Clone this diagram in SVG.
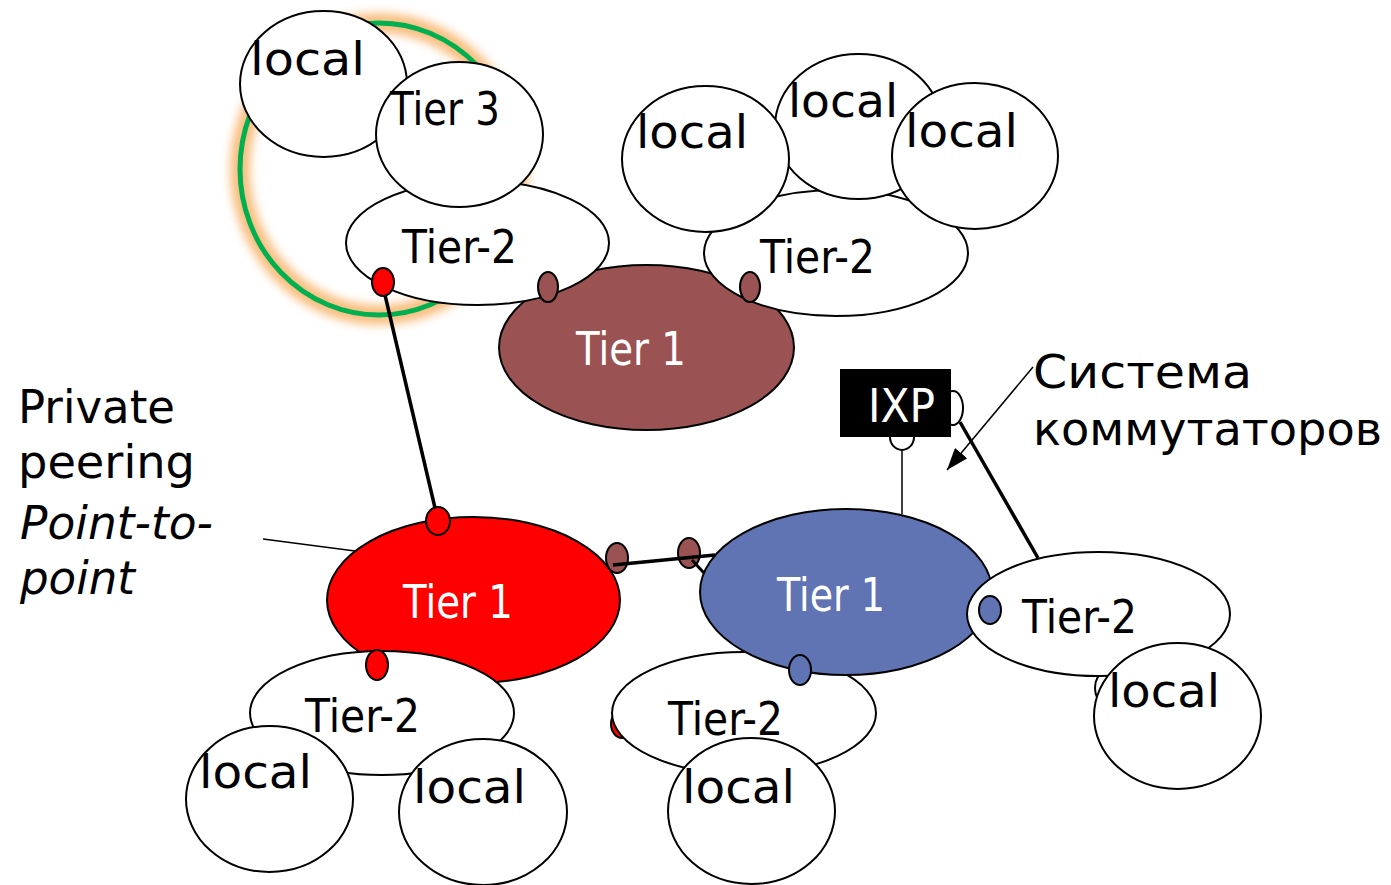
<svg xmlns="http://www.w3.org/2000/svg" width="1391" height="885" viewBox="0 0 1391 885">
<style>
.n{fill:#fff;stroke:#000;stroke-width:2}
.t{font-family:"DejaVu Sans","Liberation Sans",sans-serif;font-size:46px;fill:#000}
.w{fill:#fff}
.bd{fill:#9a5252;stroke:#000;stroke-width:2}
.rd{fill:#ff0000;stroke:#000;stroke-width:2}
.bl{fill:#6073b3;stroke:#000;stroke-width:2}
.c{stroke:#000;fill:none}
</style>
<defs>
<filter id="glow" x="-20%" y="-20%" width="140%" height="140%"><feGaussianBlur stdDeviation="5"/></filter>
<marker id="ah" viewBox="0 0 22 16" refX="22" refY="8" markerWidth="22" markerHeight="16" markerUnits="userSpaceOnUse" orient="auto"><path d="M0,0 L22,8 L0,16 z" fill="#000"/></marker>
</defs>
<rect width="1391" height="885" fill="#fff"/>

<g id="tier3-domain">
<ellipse cx="379" cy="169" rx="139" ry="146" fill="none" stroke="#f6a955" stroke-width="20" filter="url(#glow)" opacity="0.75"/>
<ellipse cx="379" cy="169" rx="139" ry="146" fill="none" stroke="#00b050" stroke-width="5"/>
</g>

<g id="tier1-brown">
<ellipse cx="646.5" cy="347.5" rx="147.5" ry="82.5" class="bd"/>
<text x="576" y="365" class="t w" textLength="110" lengthAdjust="spacingAndGlyphs">Tier 1</text>
</g>
<g id="tier2-topleft">
<ellipse cx="477.5" cy="243" rx="131.5" ry="62" class="n"/>
<text x="402" y="263" class="t" textLength="115" lengthAdjust="spacingAndGlyphs">Tier-2</text>
</g>
<g id="local-topleft">
<ellipse cx="323.5" cy="84" rx="83.5" ry="73" class="n"/>
<text x="250" y="75" class="t" textLength="115" lengthAdjust="spacingAndGlyphs">local</text>
</g>
<g id="tier3">
<ellipse cx="459.5" cy="134.5" rx="83.5" ry="72.5" class="n"/>
<text x="390" y="125" class="t" textLength="110" lengthAdjust="spacingAndGlyphs">Tier 3</text>
</g>

<g id="tier2-topright">
<ellipse cx="836" cy="253" rx="132" ry="63" class="n"/>
<text x="760" y="273" class="t" textLength="115" lengthAdjust="spacingAndGlyphs">Tier-2</text>
</g>
<g id="local-top-mid">
<ellipse cx="858.5" cy="126.5" rx="83.5" ry="72.5" class="n"/>
<text x="788" y="117" class="t" textLength="110" lengthAdjust="spacingAndGlyphs">local</text>
</g>
<g id="local-top-left2">
<ellipse cx="705.5" cy="159" rx="83.5" ry="73" class="n"/>
<text x="636" y="148" class="t" textLength="112" lengthAdjust="spacingAndGlyphs">local</text>
</g>
<g id="local-top-right">
<ellipse cx="975" cy="156" rx="83" ry="73" class="n"/>
<text x="905" y="147" class="t" textLength="113" lengthAdjust="spacingAndGlyphs">local</text>
</g>

<g id="ports-top">
<ellipse cx="548" cy="287" rx="10" ry="15" class="bd"/>
<ellipse cx="750" cy="287" rx="10" ry="15" class="bd"/>
<ellipse cx="383" cy="282" rx="11" ry="14" class="rd"/>
</g>

<g id="ixp">
<ellipse cx="953" cy="408" rx="10" ry="17" class="n"/>
<ellipse cx="902" cy="437" rx="12" ry="13" class="n"/>
<rect x="840" y="369" width="111" height="68" fill="#000"/>
<text x="868" y="422" class="t w" textLength="67" lengthAdjust="spacingAndGlyphs">IXP</text>
</g>

<g id="tier1-red">
<ellipse cx="473.5" cy="600" rx="146.5" ry="83" class="rd"/>
<text x="403" y="618" class="t w" textLength="110" lengthAdjust="spacingAndGlyphs">Tier 1</text>
</g>
<g id="tier2-bottomleft">
<ellipse cx="382" cy="713" rx="132" ry="62" class="n"/>
<text x="305" y="732" class="t" textLength="115" lengthAdjust="spacingAndGlyphs">Tier-2</text>
<ellipse cx="377" cy="665" rx="11" ry="15" class="rd"/>
</g>
<g id="local-bl1">
<ellipse cx="269.5" cy="799" rx="83.5" ry="73" class="n"/>
<text x="199" y="788" class="t" textLength="113" lengthAdjust="spacingAndGlyphs">local</text>
</g>
<g id="local-bl2">
<ellipse cx="483" cy="812" rx="84" ry="73" class="n"/>
<text x="413" y="803" class="t" textLength="113" lengthAdjust="spacingAndGlyphs">local</text>
</g>

<g id="tier2-bottommid">
<ellipse cx="622" cy="724" rx="11" ry="14" class="rd"/>
<ellipse cx="744" cy="713" rx="132" ry="61" class="n"/>
<text x="668" y="735" class="t" textLength="115" lengthAdjust="spacingAndGlyphs">Tier-2</text>
</g>
<g id="tier1-blue">
<ellipse cx="846" cy="592" rx="146" ry="83" class="bl"/>
<text x="777" y="611" class="t w" textLength="108" lengthAdjust="spacingAndGlyphs">Tier 1</text>
<ellipse cx="800" cy="670" rx="11" ry="15" class="bl"/>
</g>
<g id="local-bm">
<ellipse cx="751.5" cy="811" rx="83.5" ry="73" class="n"/>
<text x="682" y="803" class="t" textLength="113" lengthAdjust="spacingAndGlyphs">local</text>
</g>

<g id="tier2-right">
<ellipse cx="1103" cy="688" rx="8" ry="14" class="n"/>
<ellipse cx="1098.5" cy="614" rx="131.5" ry="62" class="n"/>
<text x="1022" y="633" class="t" textLength="115" lengthAdjust="spacingAndGlyphs">Tier-2</text>
<ellipse cx="990" cy="610" rx="11" ry="14" class="bl"/>
</g>
<g id="local-right">
<ellipse cx="1177.5" cy="716" rx="83.5" ry="73" class="n"/>
<text x="1108" y="707" class="t" textLength="112" lengthAdjust="spacingAndGlyphs">local</text>
</g>

<g id="ports-mid">
<ellipse cx="617" cy="558" rx="11" ry="15" class="bd"/>
<ellipse cx="689" cy="553" rx="11" ry="15" class="bd"/>
<ellipse cx="438" cy="521" rx="12" ry="14" class="rd"/>
</g>

<g id="connectors">
<line x1="385" y1="295" x2="435" y2="508" class="c" stroke-width="3.5"/>
<line x1="613" y1="565" x2="715" y2="555" class="c" stroke-width="3.5"/>
<line x1="692" y1="560" x2="704" y2="573" class="c" stroke-width="3"/>
<line x1="902" y1="450" x2="902" y2="514" class="c" stroke-width="1.5"/>
<line x1="960" y1="422" x2="1038" y2="558" class="c" stroke-width="3.5"/>
<line x1="263" y1="539" x2="355" y2="551" class="c" stroke-width="1.5"/>
<line x1="1033" y1="367" x2="947" y2="470" class="c" stroke-width="1.5" marker-end="url(#ah)"/>
</g>

<g id="labels">
<text x="18" y="423" class="t" textLength="157" lengthAdjust="spacingAndGlyphs">Private</text>
<text x="18" y="478" class="t" textLength="177" lengthAdjust="spacingAndGlyphs">peering</text>
<text x="20" y="539" class="t" font-style="italic" textLength="193" lengthAdjust="spacingAndGlyphs">Point-to-</text>
<text x="20" y="594" class="t" font-style="italic" textLength="115" lengthAdjust="spacingAndGlyphs">point</text>
<text x="1033" y="388" class="t" textLength="219" lengthAdjust="spacingAndGlyphs">Система</text>
<text x="1033" y="445" class="t" textLength="349" lengthAdjust="spacingAndGlyphs">коммутаторов</text>
</g>
</svg>
